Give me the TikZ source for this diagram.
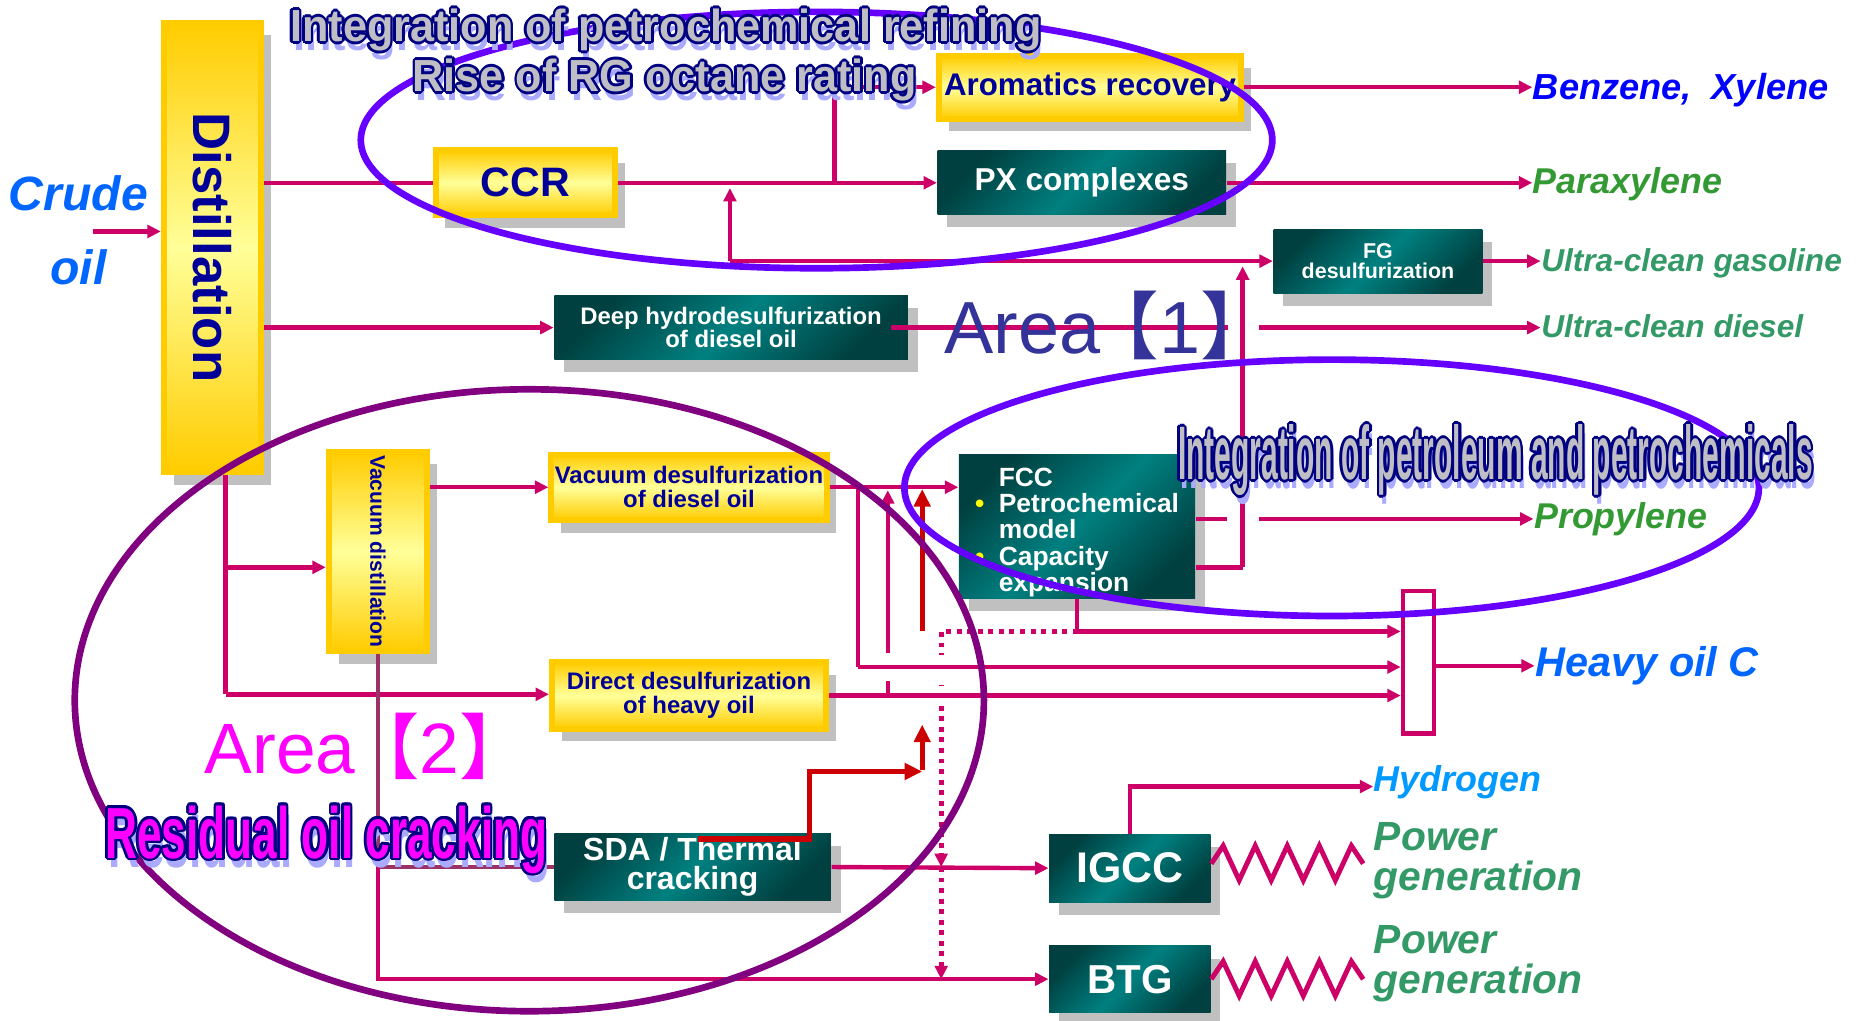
\documentclass[tikz,border=0pt]{standalone}
\usepackage{fontspec}
\setmainfont{Liberation Sans}
\newfontfamily\cjkfont{Noto Sans CJK SC}
\usepackage{graphicx}
\usepackage{xcolor}
\definecolor{navytext}{RGB}{0,0,153}
\definecolor{flowmag}{RGB}{204,0,102}
\definecolor{arrowred}{RGB}{204,0,0}
\definecolor{resbrown}{RGB}{153,51,102}
\definecolor{ringviolet}{RGB}{102,0,255}
\definecolor{ringpurple}{RGB}{128,0,128}
\definecolor{gold}{RGB}{255,204,0}
\definecolor{paleyellow}{RGB}{255,255,153}
\definecolor{tealmid}{RGB}{0,128,128}
\definecolor{tealdark}{RGB}{0,64,64}
\definecolor{shadowgray}{RGB}{192,192,192}
\definecolor{crudeblue}{RGB}{0,102,255}
\definecolor{purblue}{RGB}{0,0,255}
\definecolor{leafgreen}{RGB}{51,153,51}
\definecolor{seagreen}{RGB}{51,153,102}
\definecolor{skyblue}{RGB}{0,153,255}
\definecolor{areablue}{RGB}{51,51,153}
\definecolor{areamag}{RGB}{255,0,255}
\definecolor{titlegray}{RGB}{190,190,196}
\definecolor{titleshadow}{RGB}{170,170,255}
\definecolor{titlenavy}{RGB}{0,0,128}
\definecolor{bulletyellow}{RGB}{255,255,0}
\usetikzlibrary{arrows.meta,shadows,positioning}

\newlength\unitpx
\setlength\unitpx{0.118686mm}
\newcommand\fsz[2]{\fontsize{#1}{#2}\selectfont}

% outlined title: coordinate, xscale, font, fill colour, text
\newcommand{\outlinetitle}[5]{%
  \node[titletxt, font=#3, text=titleshadow] at ([shift={(0.8pt,-2.6pt)}]#1) {\scalebox{#2}[1]{#5}};
  \foreach \ang in {0,30,...,330}
    \node[titletxt, font=#3, text=titlenavy] at ([shift={(\ang:0.75pt)}]#1) {\scalebox{#2}[1]{#5}};
  \node[titletxt, font=#3, text=#4] (#1lbl) at (#1) {\scalebox{#2}[1]{#5}};
}

\begin{document}
\begin{tikzpicture}[x=0.118686mm, y=-0.118686mm,
  sz/.style 2 args={minimum width=#1*\unitpx, minimum height=#2*\unitpx},
  boxshadow/.style={drop shadow={shadow xshift=2.8pt, shadow yshift=-3.6pt, fill=shadowgray, opacity=1}},
  ybox/.style={boxshadow, draw=gold, line width=1.7pt, top color=gold, bottom color=gold,
               middle color=paleyellow, text=navytext, align=center, inner sep=1pt},
  tbox/.style={boxshadow, top color=tealdark, bottom color=tealdark, middle color=tealmid,
               shading angle=45, text=white, align=center, inner sep=1pt},
  lbl/.style={anchor=base west, inner sep=0pt},
  pipe/.style={draw=flowmag, line width=1.25pt},
  flow/.style={pipe, -{Triangle[length=3.8pt,width=3.6pt]}},
  dotflow/.style={flow, line width=1.4pt, dash pattern=on 1.4pt off 1.6pt},
  redline/.style={draw=arrowred, line width=1.5pt},
  redflow/.style={redline, -{Triangle[length=5pt,width=4.6pt]}},
  resline/.style={draw=resbrown, line width=1.25pt},
  zig/.style={draw=flowmag, line width=1.4pt},
  ring/.style={line width=1.9pt},
  titletxt/.style={anchor=base, inner sep=0pt}
]
\useasboundingbox (0,0) rectangle (1568,860);

% process units
\node[ybox, sz={82}{379}, font=\fsz{15}{15}\bfseries] (dist) at (179,208.5) {\rotatebox{-90}{Distillation}};
\node[ybox, sz={151}{55}, font=\fsz{11.7}{11.7}\bfseries] (ccr) at (442.5,154) {CCR};
\node[ybox, sz={255}{53}, font=\fsz{8.9}{8.9}\bfseries] (arom) at (918.5,73.5) {Aromatics recovery};
\node[tbox, sz={243}{54}, font=\fsz{9}{9}\bfseries] (px) at (911.5,154) {PX complexes};
\node[tbox, sz={176}{54}, font=\fsz{6.1}{5.8}\bfseries] (fgd) at (1161,220) {FG\\desulfurization};
\node[tbox, sz={298}{54}, font=\fsz{6.8}{6.7}\bfseries] (dhds) at (616,276) {Deep hydrodesulfurization\\of diesel oil};
\node[ybox, sz={83}{163}, font=\fsz{6}{6}\bfseries] (vacd) at (318.5,464.5) {\rotatebox{-90}{Vacuum distillation}};
\node[ybox, sz={231}{55}, font=\fsz{6.8}{6.7}\bfseries] (vdsd) at (580.5,410.5) {Vacuum desulfurization\\of diesel oil};
\node[ybox, sz={231}{56}, font=\fsz{6.8}{6.7}\bfseries] (ddsh) at (580.5,586) {Direct desulfurization\\of heavy oil};
\node[tbox, sz={233}{55}, font=\fsz{9.1}{8.4}\bfseries] (sda) at (583.5,730.5) {SDA / Thermal\\cracking};
\node[tbox, sz={199}{121}] (fcc) at (907.5,443.5) {};
\node[align=left, inner sep=0pt, text=white, font=\fsz{7.5}{7.5}\bfseries] (fcctxt) at ([yshift=-1.7pt]fcc.center)
  {\makebox[0.9em][l]{}FCC\\
   \makebox[0.9em][l]{\textcolor{bulletyellow}{\textbullet}}Petrochemical\\
   \makebox[0.9em][l]{}model\\
   \makebox[0.9em][l]{\textcolor{bulletyellow}{\textbullet}}Capacity\\
   \makebox[0.9em][l]{}expansion};
\node[tbox, sz={136}{57}, font=\fsz{12.2}{12.2}\bfseries] (igcc) at (952,731.5) {IGCC};
\node[tbox, sz={136}{56}, font=\fsz{11.5}{11.5}\bfseries] (btg) at (952,825) {BTG};
\node[draw=flowmag, line width=1.25pt, sz={26}{120}] (coll) at (1195,558) {};

% feed and products
\node[anchor=base, inner sep=0pt, text=crudeblue, font=\fsz{13.7}{13.7}\bfseries\itshape] (crude) at (66,177) {Crude};
\node[anchor=base, inner sep=0pt, text=crudeblue, font=\fsz{13.7}{13.7}\bfseries\itshape] (oil) at (66,240) {oil};
\node[lbl, text=purblue, font=\fsz{10.3}{10.3}\bfseries\itshape] (benz) at (1291,84) {Benzene,\hspace{0.55em}Xylene};
\node[lbl, text=leafgreen, font=\fsz{10.2}{10.2}\bfseries\itshape] (parax) at (1291,163) {Paraxylene};
\node[lbl, text=seagreen, font=\fsz{9}{9}\bfseries\itshape] (ucg) at (1298,229) {Ultra-clean gasoline};
\node[lbl, text=seagreen, font=\fsz{9}{9}\bfseries\itshape] (ucd) at (1298,284) {Ultra-clean diesel};
\node[lbl, text=leafgreen, font=\fsz{10.2}{10.2}\bfseries\itshape] (prop) at (1292,445) {Propylene};
\node[lbl, text=crudeblue, font=\fsz{11.8}{11.8}\bfseries\itshape] (hoc) at (1293,570) {Heavy oil C};
\node[lbl, text=skyblue, font=\fsz{10.2}{10.2}\bfseries\itshape] (hyd) at (1157,667) {Hydrogen};
\node[anchor=north west, inner sep=0pt, align=left, text=seagreen, font=\fsz{11.6}{11.5}\bfseries\itshape] (pow1) at (1157,692) {Power\\generation};
\node[anchor=north west, inner sep=0pt, align=left, text=seagreen, font=\fsz{11.6}{11.5}\bfseries\itshape] (pow2) at (1157,779) {Power\\generation};

% junctions
\coordinate (crudein) at (78,195);
\coordinate (jA) at (703,154);
\coordinate (jG) at (615,220);
\coordinate (jR) at (1047,478);
\coordinate (jD1) at (190,478);
\coordinate (jD2) at (190,585);
\coordinate (jV) at (vacd.south |- sda.west);
\coordinate (jM1) at (723,410.5);
\coordinate (jM2) at (723,562);
\coordinate (jB1) at (748,586);
\coordinate (jB2) at (748,413);
\coordinate (jC1) at (777,532);
\coordinate (jC2) at (777,412);
\coordinate (jS) at (908,532);
\coordinate (jT) at (793,532);
\coordinate (sdaout) at (588,707);
\coordinate (jE1) at (682,707);
\coordinate (jE2) at (682,650);
\coordinate (jE3) at (777,650);

% upper flows
\draw[flow] (crudein) -- (crudein -| dist.west);
\draw[pipe] (dist.east |- ccr.west) -- (ccr.west);
\draw[flow] (ccr.east) -- (px.west);
\draw[flow] (jA) |- (arom.west);
\draw[flow] (arom.east) -- (arom.east -| benz.west);
\draw[flow] (px.east) -- (px.east -| parax.west);
\draw[flow] (jG) -- (jG -| fgd.west);
\draw[flow, shorten >=1.5pt] (jG) -- (jG |- ccr.east);
\draw[flow] (fgd.east) -- (fgd.east -| ucg.west);
\draw[flow] (dist.east |- dhds.west) -- (dhds.west);
\draw[flow] ([xshift=-5pt]dhds.east) -- (dhds.east -| ucd.west);
\draw[flow] (fcc.east |- prop.west) -- (prop.west);
\draw[pipe] (fcc.east |- jR) -- (jR);
\fill[white] (1035,264) rectangle (1061,288);
\fill[white] (1034,425) rectangle (1061,449);
\draw[flow, shorten >=1.5pt] (jR) -- (jR |- jG);

% lower flows
\draw[pipe] (jD1 |- dist.south) -- (jD2);
\draw[flow] (jD1) -- (jD1 -| vacd.west);
\draw[flow] (jD2) -- (jD2 -| ddsh.west);
\draw[flow] (vacd.east |- vdsd.west) -- (vdsd.west);
\draw[flow] (vdsd.east) -- (vdsd.east -| fcc.west);
\draw[resline] (vacd.south) -- (jV) -- (sda.west);
\draw[flow] (jV) |- (btg.west);
\draw[flow] (sda.east) -- (igcc.west);
\draw[flow] (igcc.north) |- ([yshift=-1.2pt]hyd.west);
\draw[zig] ([yshift=1.3pt]igcc.east) -- ++(10,-15) foreach \k in {1,...,4} { -- ++(13.5,29) -- ++(13.5,-29) } -- ++(10,15);
\draw[zig] (btg.east) -- ++(10,-15) foreach \k in {1,...,4} { -- ++(13.5,29) -- ++(13.5,-29) } -- ++(10,15);

% heavy oil collection
\draw[dotflow] (jS) -- (jT) -- (jT |- sda.east);
\draw[dotflow] (jT |- sda.east) -- (jT |- btg.west);
\draw[flow] (jB1) -- (jB2);
\draw[redflow] (jC1) -- (jC2);
\fill[white] (737,550) rectangle (759,574);
\fill[white] (783,552) rectangle (803,572);
\fill[white] (783,578) rectangle (803,594);
\draw[flow] (jM2) -- (jM2 -| coll.west);
\draw[pipe] (jM1) -- (jM2);
\draw[flow] (ddsh.east) -- (ddsh.east -| coll.west);
\draw[flow] (fcc.south) |- (coll.west |- jS);
\draw[flow] (coll.east |- hoc.west) -- (hoc.west);
\draw[redflow] (sdaout) -- (jE1) -- (jE2) -- (jE3);
\draw[redflow] ([yshift=0.5pt]jE3) -- ++(0,-38);

% integration areas
\draw[ring, draw=ringviolet] (688,118) ellipse [x radius=384, y radius=108];
\draw[ring, draw=ringviolet] (1122,411) ellipse [x radius=360, y radius=108];
\draw[ring, draw=ringpurple] (446,590) ellipse [x radius=383, y radius=262];

% area captions
\node[anchor=base west, inner sep=0pt, text=areablue, font=\fsz{21}{21}] (area1) at (795,298) {Area\hspace{-0.2em}{\cjkfont 【}1{\cjkfont 】}};
\node[anchor=base west, inner sep=0pt, text=areamag, font=\fsz{20.3}{20.3}] (area2) at (172,652) {Area\hspace{-0.1em}{\cjkfont 【}2{\cjkfont 】}};

\coordinate (t1) at (561,35);
\coordinate (t2) at (560,77);
\coordinate (t3) at (1260,404);
\coordinate (t4) at (275,723);
\outlinetitle{t1}{0.96}{\fsz{12.8}{12.8}\bfseries}{titlegray}{Integration of petrochemical refining}
\outlinetitle{t2}{0.96}{\fsz{12.8}{12.8}\bfseries}{titlegray}{Rise of RG octane rating}
\outlinetitle{t3}{0.395}{\fsz{21.6}{21.6}\bfseries}{titlegray}{Integration of petroleum and petrochemicals}
\outlinetitle{t4}{0.61}{\fsz{20.6}{20.6}\bfseries}{areamag}{Residual oil cracking}
\end{tikzpicture}
\end{document}
